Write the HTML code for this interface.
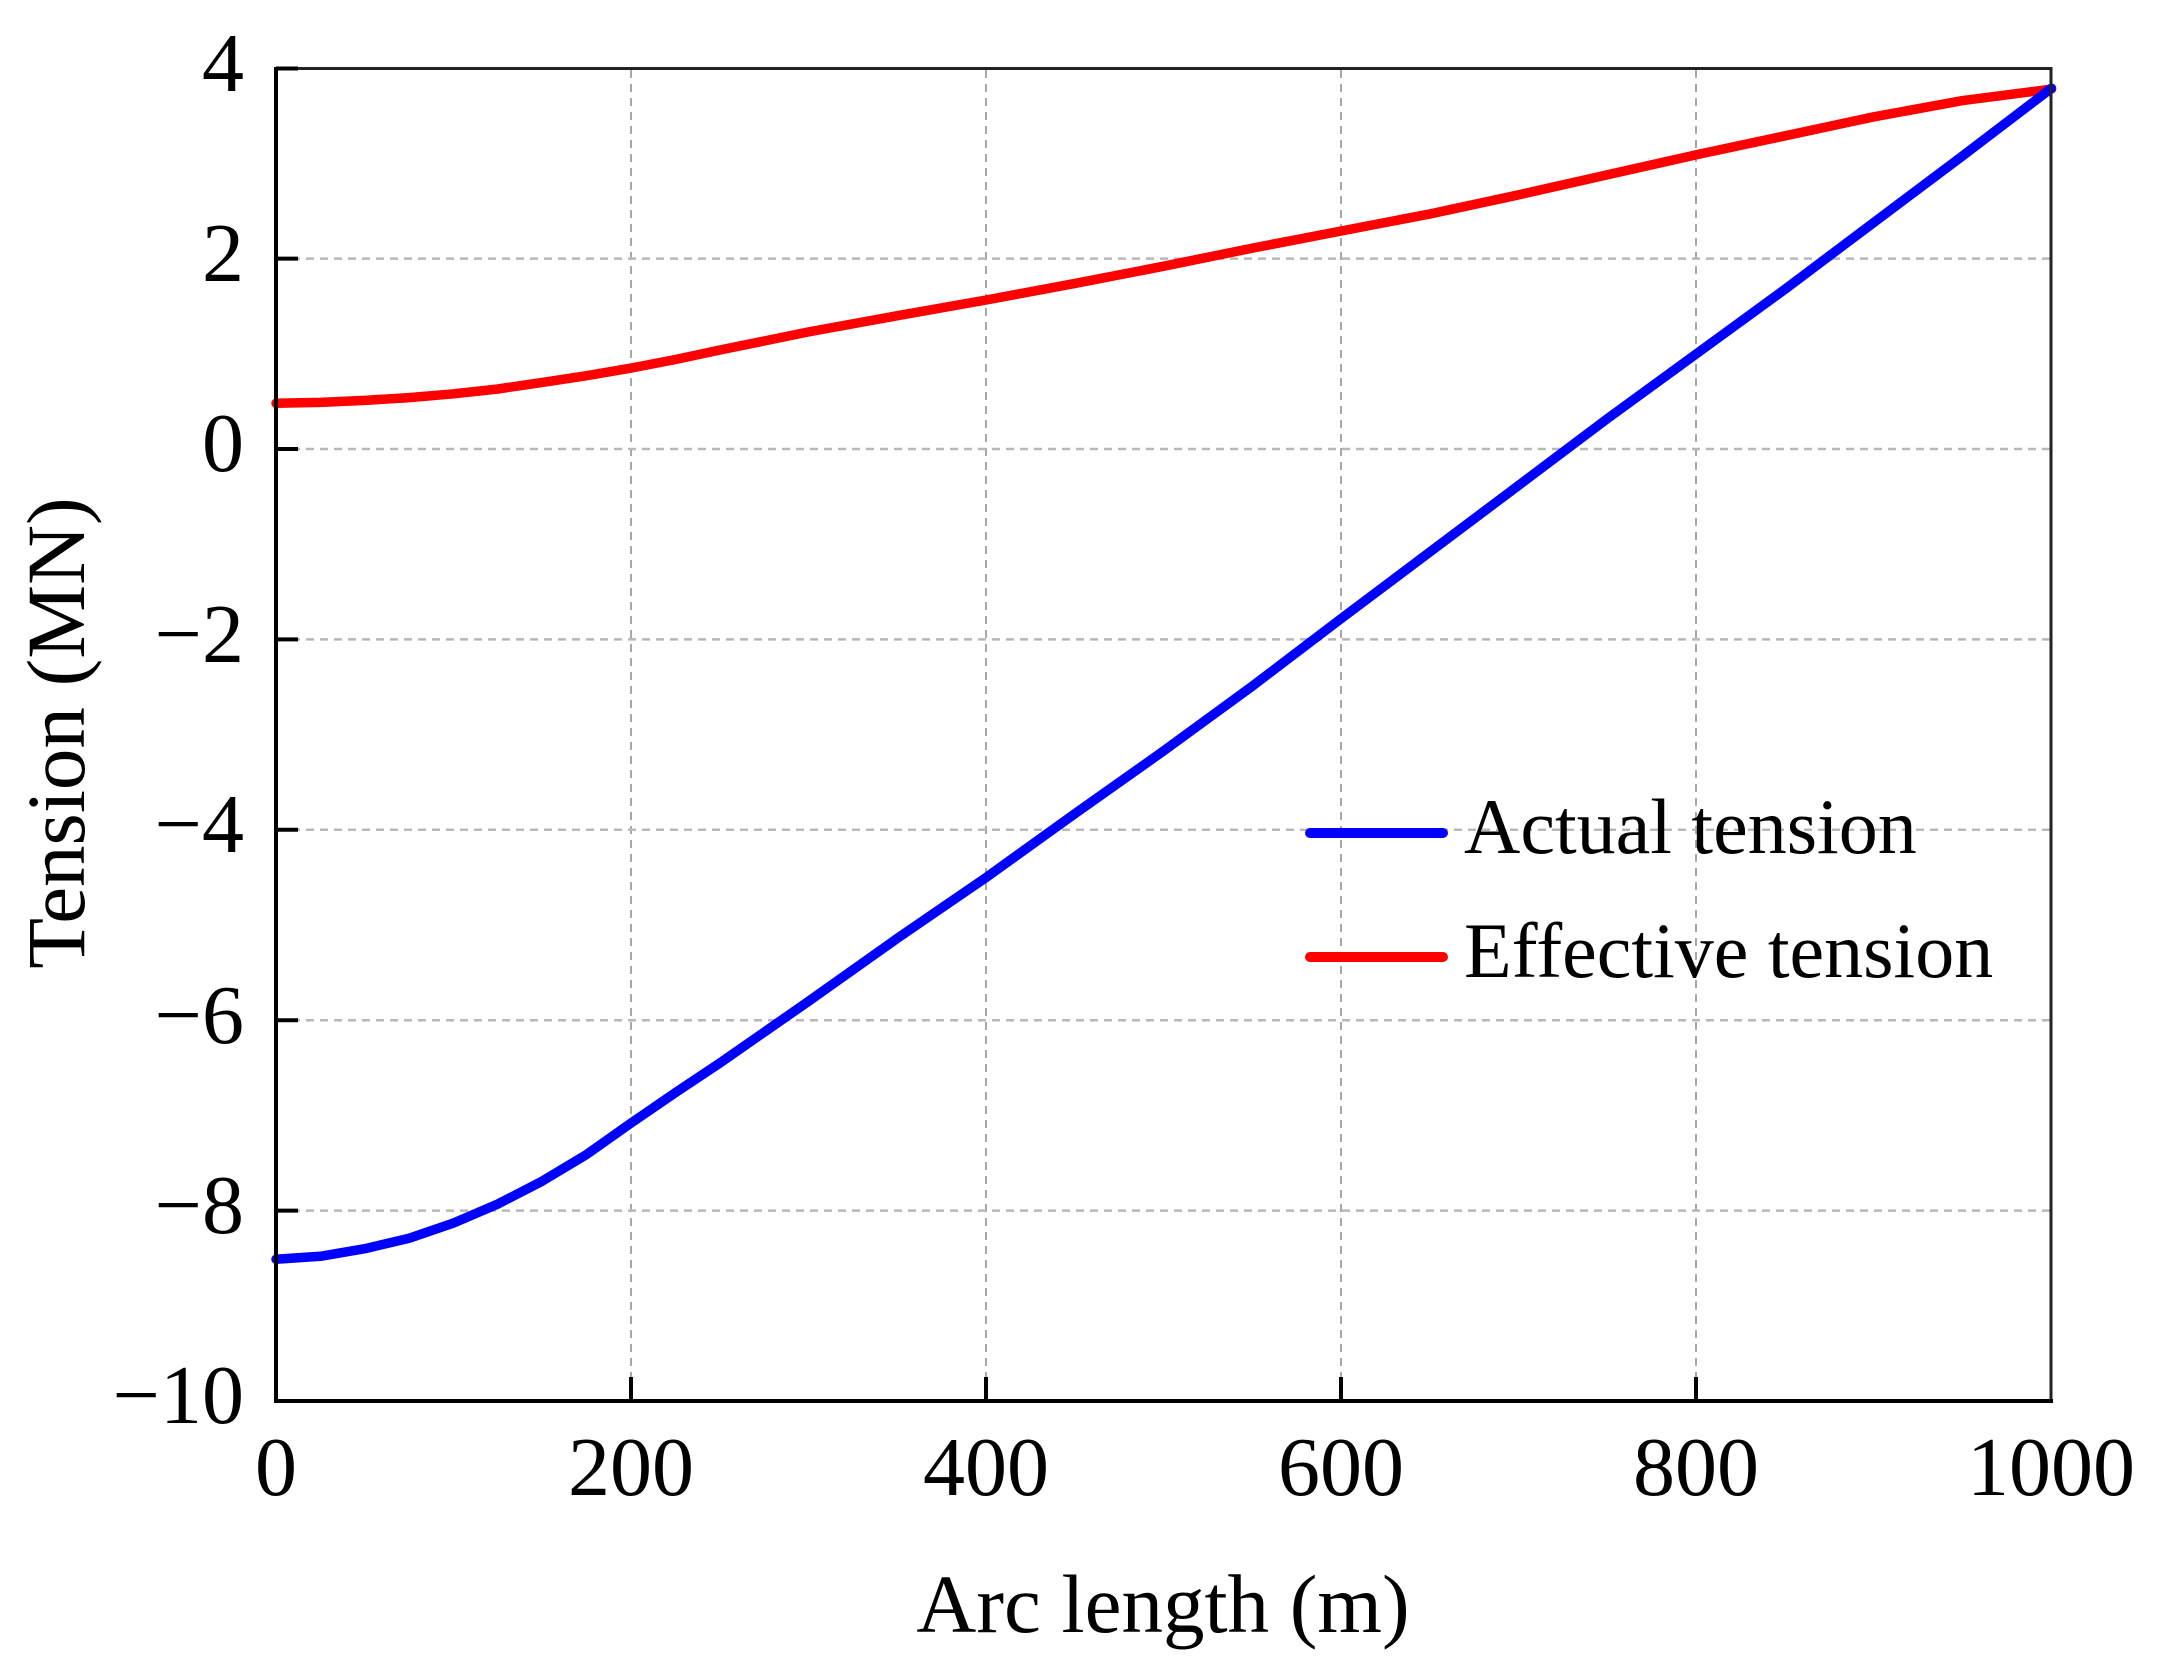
<!DOCTYPE html>
<html>
<head>
<meta charset="utf-8">
<style>
  html, body { margin: 0; padding: 0; background: #ffffff; }
  body { width: 2164px; height: 1678px; overflow: hidden; }
  svg { display: block; }
  text { font-family: "Liberation Serif", "Times New Roman", serif; fill: #000; }
</style>
</head>
<body>
<svg width="2164" height="1678" viewBox="0 0 2164 1678" xmlns="http://www.w3.org/2000/svg">
  <rect x="0" y="0" width="2164" height="1678" fill="#ffffff"/>

  <!-- grid -->
  <g stroke="#a8a8a8" stroke-width="2" stroke-dasharray="8 6" fill="none">
    <line x1="631" y1="70" x2="631" y2="1400"/>
    <line x1="986" y1="70" x2="986" y2="1400"/>
    <line x1="1341" y1="70" x2="1341" y2="1400"/>
    <line x1="1696" y1="70" x2="1696" y2="1400"/>
  </g>
  <g stroke="#b8b8b8" stroke-width="2.5" stroke-dasharray="8 6" fill="none">
    <line x1="278" y1="258.6" x2="2050" y2="258.6"/>
    <line x1="278" y1="449" x2="2050" y2="449"/>
    <line x1="278" y1="639.4" x2="2050" y2="639.4"/>
    <line x1="278" y1="829.8" x2="2050" y2="829.8"/>
    <line x1="278" y1="1020.2" x2="2050" y2="1020.2"/>
    <line x1="278" y1="1210.6" x2="2050" y2="1210.6"/>
  </g>

  <!-- data: effective tension (red) -->
  <polyline fill="none" stroke="#ff0000" stroke-width="9.5" stroke-linejoin="round" stroke-linecap="round"
    points="276,403.3 320.4,402.4 364.8,400.4 409.2,397.6 453.6,393.8 497.9,389.0 542.3,382.4 586.7,375.7 631.1,368.1 675.5,359.5 719.9,350.0 808.7,331.9 897.4,315.7 986.2,300.0 1075.0,283.4 1163.8,266.2 1252.5,248.1 1341.3,231.0 1430.1,213.9 1518.9,194.8 1607.6,174.8 1696.4,154.8 1785.2,135.8 1873.9,116.8 1962.7,100.6 2051.5,89.1"/>

  <!-- data: actual tension (blue) -->
  <polyline fill="none" stroke="#0000ff" stroke-width="9.5" stroke-linejoin="round" stroke-linecap="round"
    points="276,1259.2 320.4,1256.3 364.8,1248.7 409.2,1238.2 453.6,1223.0 497.9,1204.0 542.3,1181.1 586.7,1154.4 631.1,1123.0 675.5,1092.6 719.9,1063.0 808.7,1001.2 897.4,938.3 986.2,877.4 1075.0,813.6 1163.8,750.8 1252.5,686.0 1341.3,618.5 1430.1,551.8 1518.9,485.2 1607.6,418.5 1696.4,353.8 1785.2,289.1 1873.9,222.4 1962.7,155.8 2051.5,88.2"/>

  <!-- axes frame -->
  <g stroke="#000" fill="none">
    <line x1="276" y1="68.5" x2="2051" y2="68.5" stroke-width="3" stroke="#222"/>
    <line x1="2051" y1="67" x2="2051" y2="1402.5" stroke-width="3" stroke="#222"/>
    <line x1="276" y1="67" x2="276" y2="1403" stroke-width="4"/>
    <line x1="274" y1="1401" x2="2053" y2="1401" stroke-width="4"/>
  </g>

  <!-- ticks -->
  <g stroke="#000" stroke-width="4">
    <line x1="276" y1="68.5" x2="298" y2="68.5"/>
    <line x1="276" y1="258.6" x2="298" y2="258.6"/>
    <line x1="276" y1="449" x2="298" y2="449"/>
    <line x1="276" y1="639.4" x2="298" y2="639.4"/>
    <line x1="276" y1="829.8" x2="298" y2="829.8"/>
    <line x1="276" y1="1020.2" x2="298" y2="1020.2"/>
    <line x1="276" y1="1210.6" x2="298" y2="1210.6"/>
    <line x1="631" y1="1401" x2="631" y2="1377"/>
    <line x1="986" y1="1401" x2="986" y2="1377"/>
    <line x1="1341" y1="1401" x2="1341" y2="1377"/>
    <line x1="1696" y1="1401" x2="1696" y2="1377"/>
  </g>

  <!-- y tick labels -->
  <g font-size="84" text-anchor="end">
    <text x="244" y="91">4</text>
    <text x="244" y="281">2</text>
    <text x="244" y="471">0</text>
    <text x="244" y="662">−2</text>
    <text x="244" y="852">−4</text>
    <text x="244" y="1043">−6</text>
    <text x="244" y="1233">−8</text>
    <text x="244" y="1423">−10</text>
  </g>

  <!-- x tick labels -->
  <g font-size="84" text-anchor="middle">
    <text x="276" y="1495">0</text>
    <text x="631" y="1495">200</text>
    <text x="986" y="1495">400</text>
    <text x="1341" y="1495">600</text>
    <text x="1696" y="1495">800</text>
    <text x="2051" y="1495">1000</text>
  </g>

  <!-- axis titles -->
  <text x="1163" y="1632" font-size="83" text-anchor="middle">Arc length (m)</text>
  <text x="0" y="0" font-size="83" text-anchor="middle" transform="translate(84,733) rotate(-90)">Tension (MN)</text>

  <!-- legend -->
  <line x1="1310" y1="833" x2="1443" y2="833" stroke="#0000ff" stroke-width="10" stroke-linecap="round"/>
  <line x1="1310" y1="957" x2="1443" y2="957" stroke="#ff0000" stroke-width="10" stroke-linecap="round"/>
  <text x="1464" y="853" font-size="78">Actual tension</text>
  <text x="1464" y="977" font-size="78">Effective tension</text>
</svg>
</body>
</html>
